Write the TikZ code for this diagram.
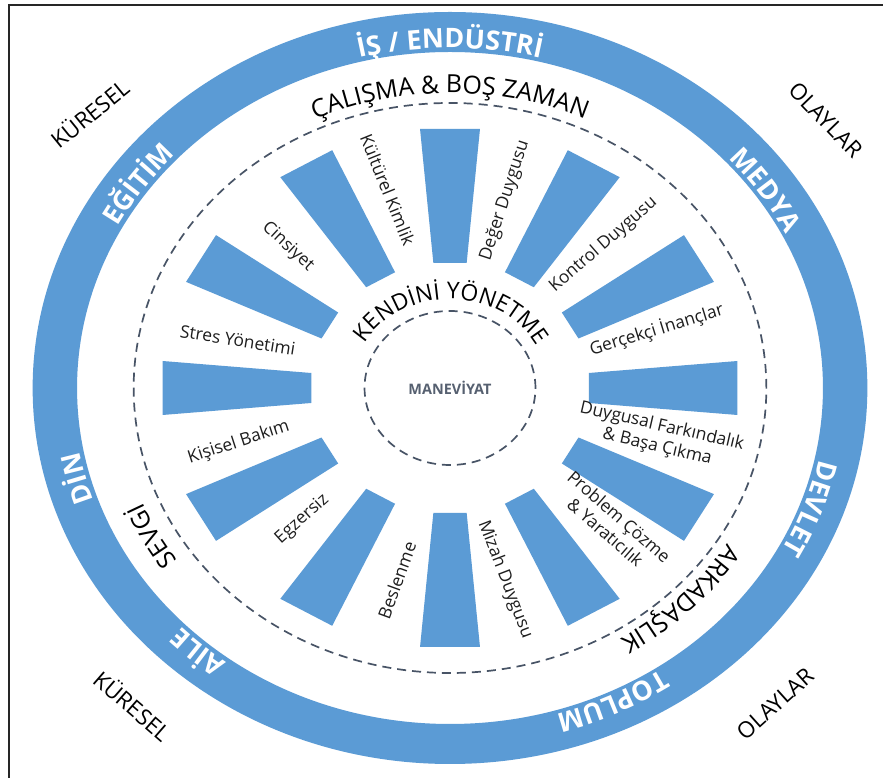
\documentclass[tikz,border=0pt]{standalone}
\usepackage{fontspec}
\setmainfont{Open Sans}
\usetikzlibrary{decorations.text}
\definecolor{wheelblue}{RGB}{91,155,213}
\definecolor{dashgrey}{RGB}{72,84,102}
\definecolor{labeltext}{RGB}{30,30,30}
\definecolor{mantext}{RGB}{86,96,112}
\newcommand\ringfont{\fontsize{27}{31}\selectfont\bfseries}
\newcommand\bandfont{\fontsize{25}{29}\selectfont}
\newcommand\selffont{\fontsize{23}{27}\selectfont}
% #1 mid angle, #2 baseline radius, #3 half span, #4 colour, #5 format, #6 text
\newcommand\arctext[6]{%
  \path[decorate, decoration={text along path, text align=center, text color=#4, text={|#5|#6}}]
    ({450+1.11*(#2)*cos(#1+#3)}, {390+(#2)*sin(#1+#3)})
    arc[start angle={#1+#3}, end angle={#1-#3}, x radius={1.11*(#2)}, y radius={#2}];}
\tikzset{
  blade/.style={fill=wheelblue},
  ringdash/.style={draw=dashgrey, line width=1.7bp, dash pattern=on 9bp off 6bp},
  lbl/.style={font=\fontsize{17.5}{21}\selectfont, text=labeltext, align=center, inner sep=0pt},
  corner/.style={font=\fontsize{22.5}{26}\selectfont, text=black, inner sep=0pt},
  centrelbl/.style={font=\fontsize{14.5}{17}\selectfont\bfseries, text=mantext, inner sep=0pt},
  frameline/.style={draw=black!85, line width=2bp},
}
\begin{document}
\begin{tikzpicture}[x=1bp,y=1bp]
\useasboundingbox (0,0) rectangle (886,778);
\fill[white] (0,0) rectangle (886,778);
\draw[frameline] (9,0) -- (9,773) -- (883,773);

\begin{scope}[shift={(450,390)}, xscale=1.11]
  \fill[wheelblue, even odd rule] (0,0) circle[radius=376] (0,0) circle[radius=336];
  \draw[ringdash] (0,0) circle[radius=285];
  \draw[ringdash] (0,0) circle[radius=77];
  \foreach \a in {0,30,...,330}
    \fill[blade, rotate=\a] (125,-15) -- (259,-27) -- (259,27) -- (125,15) -- cycle;
  \node[lbl, rotate=-68] (kultur) at (105.8:206) {Kültürel Kimlik};
  \node[lbl, rotate=72] (deger) at (75.2:194) {Değer Duygusu};
  \node[lbl, rotate=41] (kontrol) at (46:199) {Kontrol Duygusu};
  \node[lbl, rotate=17] (gercekci) at (17.4:195) {Gerçekçi İnançlar};
  \node[lbl, rotate=-13] (duygusal) at (-14.5:195) {Duygusal Farkındalık\\\& Başa Çıkma};
  \node[lbl, rotate=-41] (problem) at (-43:200) {Problem Çözme\\\& Yaratıcılık};
  \node[lbl, rotate=-69] (mizah) at (-75.5:198) {Mizah Duygusu};
  \node[lbl, rotate=70] (beslenme) at (-104:198) {Beslenme};
  \node[lbl, rotate=42] (egzersiz) at (-135.4:187) {Egzersiz};
  \node[lbl, rotate=18] (kisisel) at (-164:198) {Kişisel Bakım};
  \node[lbl, rotate=-9] (stres) at (166:197) {Stres Yönetimi};
  \node[lbl, rotate=-43] (cinsiyet) at (136:203) {Cinsiyet};
  \node[centrelbl] (maneviyat) at (0,0) {MANEVİYAT};
\end{scope}

\arctext{90}{340}{40}{white}{\ringfont}{İŞ / ENDÜSTRİ}
\arctext{33.6}{340}{40}{white}{\ringfont}{MEDYA}
\arctext{-19.5}{340}{40}{white}{\ringfont}{DEVLET}
\arctext{-64}{340}{40}{white}{\ringfont}{TOPLUM}
\arctext{-132}{340}{40}{white}{\ringfont}{AİLE}
\arctext{-165.6}{340}{40}{white}{\ringfont}{DİN}
\arctext{145.3}{340}{40}{white}{\ringfont}{EĞİTİM}

\arctext{90}{295}{50}{black}{\bandfont}{ÇALIŞMA {\&} BOŞ ZAMAN}
\arctext{-152.3}{300}{40}{black}{\bandfont}{SEVGİ}
\arctext{-44.2}{294}{40}{black}{\bandfont}{ARKADAŞLIK}
\arctext{89}{89}{85}{black}{\selffont}{KENDİNİ YÖNETME}

\node[corner, rotate=39] (kureseltl) at (89,665) {KÜRESEL};
\node[corner, rotate=-46] (olaylartr) at (826,658) {OLAYLAR};
\node[corner, rotate=-41] (kureselbl) at (133,73) {KÜRESEL};
\node[corner, rotate=42] (olaylarbr) at (775,74) {OLAYLAR};
\end{tikzpicture}
\end{document}
